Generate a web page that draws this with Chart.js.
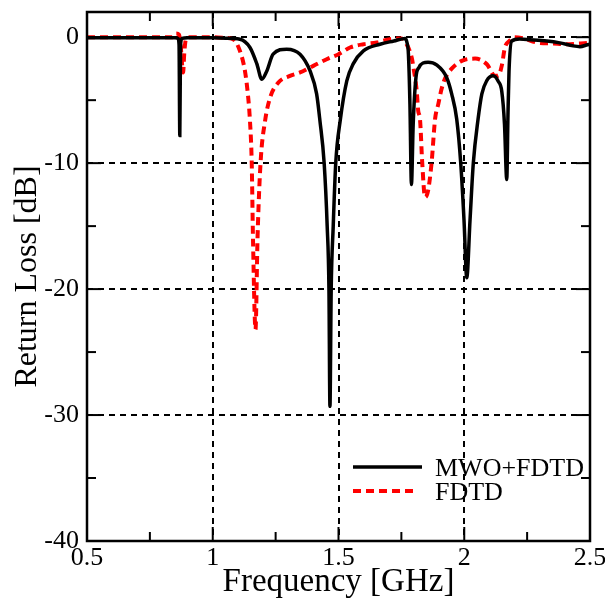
<!DOCTYPE html>
<html>
<head>
<meta charset="utf-8">
<script src="https://cdn.jsdelivr.net/npm/chart.js@4/dist/chart.umd.min.js"></script>
<style>
  html, body { margin: 0; padding: 0; background: #fff; }
  #wrap { width: 605px; height: 612px; position: relative; }
</style>
</head>
<body>
<div id="wrap"><canvas id="rlChart"></canvas></div>
<script>
// MWO+FDTD (black solid)
const freqMwo = [0.5, 0.85, 0.862, 0.866, 0.869, 0.872, 0.878, 0.9, 1.0, 1.05, 1.108, 1.148, 1.175, 1.195, 1.215, 1.24, 1.294, 1.347, 1.387, 1.413,
  1.426, 1.443, 1.455, 1.462, 1.466, 1.471, 1.479, 1.489, 1.507, 1.533, 1.559, 1.599, 1.665, 1.72, 1.765, 1.772, 1.778, 1.784, 1.79, 1.797,
  1.808, 1.82, 1.836, 1.856, 1.89, 1.93, 1.95, 1.97, 1.986, 1.999, 2.01, 2.023, 2.036, 2.055, 2.07, 2.089, 2.115, 2.135, 2.149, 2.16,
  2.169, 2.174, 2.178, 2.189, 2.22, 2.261, 2.328, 2.38, 2.433, 2.46, 2.49, 2.5];
const lossMwo = [-0.05, -0.05, -0.1, -0.6, -7.8, -0.6, -0.1, -0.05, -0.05, -0.08, -0.16, -0.82, -2.1, -3.34, -2.68, -1.35, -0.95, -1.35, -2.68, -4.5,
  -6.6, -10, -15, -20, -29.3, -20, -15, -10, -6.6, -3.47, -2.1, -1.09, -0.56, -0.3, -0.1, -0.4, -1.35, -5.3, -11.7, -6.9,
  -3.2, -2.4, -2.05, -1.99, -2.2, -3.2, -4.5, -6.5, -10, -14.5, -19.1, -14.5, -10, -6.5, -4.5, -3.47, -3.07, -3.5, -4.27, -6.9,
  -11.3, -6, -2.7, -0.3, -0.15, -0.2, -0.3, -0.45, -0.69, -0.75, -0.6, -0.55];

// FDTD (red dashed)
const freqFdtd = [0.5, 0.84, 0.855, 0.866, 0.873, 0.882, 0.887, 0.893, 0.91, 1.0, 1.05, 1.081, 1.108, 1.128, 1.141, 1.148, 1.155, 1.16, 1.17, 1.178,
  1.19, 1.208, 1.228, 1.261, 1.307, 1.347, 1.4, 1.453, 1.5, 1.546, 1.599, 1.652, 1.705, 1.751, 1.771, 1.791, 1.798, 1.811, 1.817, 1.824,
  1.833, 1.844, 1.856, 1.87, 1.884, 1.897, 1.91, 1.923, 1.95, 1.99, 2.043, 2.09, 2.122, 2.135, 2.149, 2.162, 2.18, 2.2, 2.235, 2.288,
  2.354, 2.407, 2.46, 2.49, 2.5];
const lossFdtd = [0, 0, 0.3, 0.2, -0.8, -2.8, -1.2, -0.2, 0, 0, -0.05, -0.16, -1.09, -2.68, -4.8, -6.65, -10, -16, -23.2, -16,
  -10, -6.65, -4.8, -3.6, -3.07, -2.8, -2.28, -1.75, -1.35, -0.82, -0.56, -0.42, -0.16, -0.1, -0.56, -1.62, -2.4, -4.27, -5.86, -6.5,
  -10, -12.7, -12.2, -10, -6.5, -5.3, -4.1, -3.3, -2.5, -1.88, -1.7, -2.15, -3.07, -3.07, -2.28, -0.8, -0.29, 0, -0.1, -0.42,
  -0.5, -0.56, -0.5, -0.45, -0.42];

const xTicks = [0.5, 1, 1.5, 2, 2.5];
const xMinorTicks = [0.75, 1.25, 1.75, 2.25];
const yTicks = [-40, -30, -20, -10, 0];
const yMinorTicks = [-35, -25, -15, -5];

const serif = '"Liberation Serif", "DejaVu Serif", serif';

function toPoints(xs, ys) {
  return xs.map((x, i) => ({ x: x, y: ys[i] }));
}

// dashed grid, box frame, inward ticks and the legend inside the plot
const framePlugin = {
  id: 'frame',
  beforeDatasetsDraw(chart) {
    const { ctx, chartArea: a, scales } = chart;
    ctx.save();
    ctx.strokeStyle = '#000';
    ctx.lineWidth = 2;
    ctx.setLineDash([6, 5]);
    xTicks.forEach(v => {
      if (v === 0.5 || v === 2.5) return;
      const px = Math.round(scales.x.getPixelForValue(v));
      ctx.beginPath(); ctx.moveTo(px, a.top); ctx.lineTo(px, a.bottom); ctx.stroke();
    });
    yTicks.forEach(v => {
      if (v === -40) return;
      const py = Math.round(scales.y.getPixelForValue(v));
      ctx.beginPath(); ctx.moveTo(a.left, py); ctx.lineTo(a.right, py); ctx.stroke();
    });
    ctx.restore();
  },
  afterDatasetsDraw(chart) {
    const { ctx, chartArea: a, scales } = chart;
    ctx.save();
    ctx.strokeStyle = '#000';
    ctx.setLineDash([]);
    ctx.lineWidth = 2;
    const tick = (x1, y1, x2, y2) => { ctx.beginPath(); ctx.moveTo(x1, y1); ctx.lineTo(x2, y2); ctx.stroke(); };
    xTicks.forEach(v => {
      const px = scales.x.getPixelForValue(v);
      tick(px, a.bottom, px, a.bottom - 14);
      tick(px, a.top, px, a.top + 14);
    });
    xMinorTicks.forEach(v => {
      const px = scales.x.getPixelForValue(v);
      tick(px, a.bottom, px, a.bottom - 9);
      tick(px, a.top, px, a.top + 9);
    });
    yTicks.forEach(v => {
      const py = scales.y.getPixelForValue(v);
      tick(a.left, py, a.left + 14, py);
      tick(a.right, py, a.right - 14, py);
    });
    yMinorTicks.forEach(v => {
      const py = scales.y.getPixelForValue(v);
      tick(a.left, py, a.left + 9, py);
      tick(a.right, py, a.right - 9, py);
    });
    ctx.lineWidth = 2.5;
    ctx.strokeRect(a.left, a.top, a.right - a.left, a.bottom - a.top);

    // legend
    const rows = [
      { y: 467, ds: chart.data.datasets[0], x2: 422 },
      { y: 491, ds: chart.data.datasets[1], x2: 416 }
    ];
    rows.forEach(r => {
      ctx.strokeStyle = r.ds.borderColor;
      ctx.lineWidth = r.ds.borderWidth;
      ctx.setLineDash(r.ds.borderDash || []);
      ctx.beginPath(); ctx.moveTo(353, r.y); ctx.lineTo(r.x2, r.y); ctx.stroke();
      ctx.setLineDash([]);
      ctx.fillStyle = '#000';
      ctx.font = '26px ' + serif;
      ctx.textBaseline = 'middle';
      ctx.textAlign = 'left';
      ctx.fillText(r.ds.label, 435, r.y + 2);
    });
    ctx.restore();
  }
};

new Chart(document.getElementById('rlChart').getContext('2d'), {
  type: 'line',
  data: {
    datasets: [
      {
        label: 'MWO+FDTD',
        data: toPoints(freqMwo, lossMwo),
        borderColor: '#000000',
        borderWidth: 3.5,
        pointRadius: 0,
        fill: false,
        cubicInterpolationMode: 'monotone'
      },
      {
        label: 'FDTD',
        data: toPoints(freqFdtd, lossFdtd),
        borderColor: '#ff0000',
        borderWidth: 4,
        borderDash: [8, 5],
        pointRadius: 0,
        fill: false,
        cubicInterpolationMode: 'monotone'
      }
    ]
  },
  options: {
    responsive: true,
    maintainAspectRatio: false,
    animation: false,
    layout: { padding: { top: 12, right: 15, left: 0, bottom: 0 } },
    plugins: {
      legend: { display: false },
      tooltip: { enabled: false }
    },
    scales: {
      x: {
        type: 'linear',
        min: 0.5,
        max: 2.5,
        afterBuildTicks: s => { s.ticks = xTicks.map(v => ({ value: v })); },
        afterFit: s => { s.height = 71; s.paddingLeft = 0; s.paddingRight = 0; },
        grid: { display: false, drawTicks: false },
        border: { display: false },
        ticks: {
          color: '#000',
          padding: 2,
          maxRotation: 0,
          autoSkip: false,
          font: { family: serif, size: 26 },
          callback: v => String(v)
        },
        title: {
          display: true,
          text: 'Frequency [GHz]',
          color: '#000',
          font: { family: serif, size: 33 },
          padding: { top: 10, bottom: 10 }
        }
      },
      y: {
        min: -40,
        max: 2,
        afterBuildTicks: s => { s.ticks = yTicks.map(v => ({ value: v })); },
        afterFit: s => { s.width = 87; s.paddingTop = 0; s.paddingBottom = 0; },
        grid: { display: false, drawTicks: false },
        border: { display: false },
        ticks: {
          color: '#000',
          padding: 8,
          font: { family: serif, size: 26 },
          callback: v => String(v)
        },
        title: {
          display: true,
          text: 'Return Loss [dB]',
          color: '#000',
          font: { family: serif, size: 32 },
          padding: { top: 8, bottom: 4 }
        }
      }
    }
  },
  plugins: [framePlugin]
});
</script>
</body>
</html>
